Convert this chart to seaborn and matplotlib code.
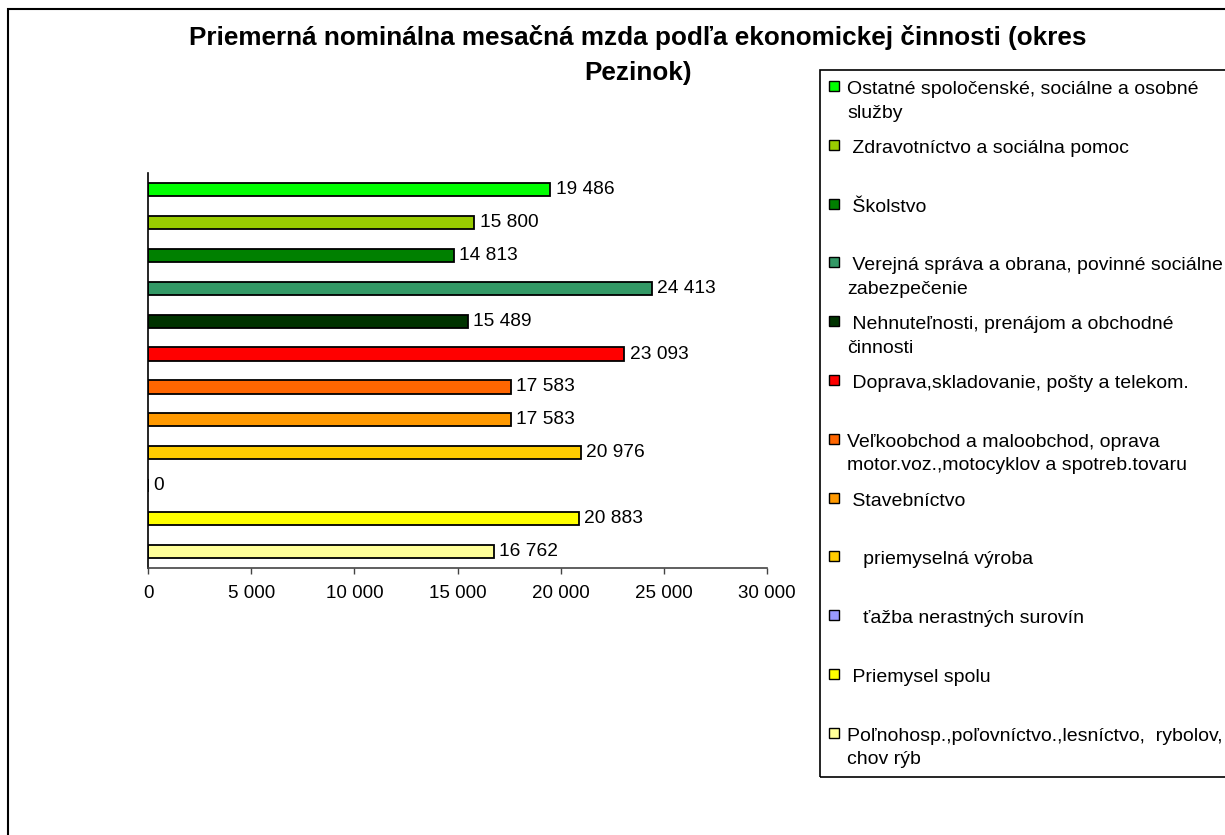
import matplotlib
matplotlib.use("Agg")
import matplotlib.pyplot as plt
from matplotlib.patches import Rectangle
import seaborn as sns
import pandas as pd

categories = [
    "Ostatné spoločenské, sociálne a osobné služby",
    "Zdravotníctvo a sociálna pomoc",
    "Školstvo",
    "Verejná správa a obrana, povinné sociálne zabezpečenie",
    "Nehnuteľnosti, prenájom a obchodné činnosti",
    "Doprava,skladovanie, pošty a telekom.",
    "Veľkoobchod a maloobchod, oprava motor.voz.,motocyklov a spotreb.tovaru",
    "Stavebníctvo",
    "priemyselná výroba",
    "ťažba nerastných surovín",
    "Priemysel spolu",
    "Poľnohosp.,poľovníctvo.,lesníctvo,  rybolov, chov rýb",
]
values = [19486, 15800, 14813, 24413, 15489, 23093, 17583, 17583, 20976, 0, 20883, 16762]
colors = ["#00FF00", "#99CC00", "#008000", "#339966", "#003300", "#FF0000",
          "#FF6600", "#FF9900", "#FFCC00", "#9999FF", "#FFFF00", "#FFFF99"]
legend_labels = [
    "Ostatné spoločenské, sociálne a osobné\nslužby",
    " Zdravotníctvo a sociálna pomoc",
    " Školstvo",
    " Verejná správa a obrana, povinné sociálne\nzabezpečenie",
    " Nehnuteľnosti, prenájom a obchodné\nčinnosti",
    " Doprava,skladovanie, pošty a telekom.",
    "Veľkoobchod a maloobchod, oprava\nmotor.voz.,motocyklov a spotreb.tovaru",
    " Stavebníctvo",
    "   priemyselná výroba",
    "   ťažba nerastných surovín",
    " Priemysel spolu",
    "Poľnohosp.,poľovníctvo.,lesníctvo,  rybolov,\nchov rýb",
]
xticks = [0, 5000, 10000, 15000, 20000, 25000, 30000]
title = "Priemerná nominálna mesačná mzda podľa ekonomickej činnosti (okres\nPezinok)"


def fmt(v):
    return f"{int(round(v)):,}".replace(",", " ")


sns.set_theme(style="white")
plt.rcParams["font.family"] = ["Liberation Sans", "DejaVu Sans"]
plt.rcParams["text.color"] = "black"
plt.rcParams["xtick.color"] = "black"

W, H = 1225, 835
fig = plt.figure(figsize=(W / 100, H / 100), dpi=100)
fig.patch.set_facecolor("white")

ax = fig.add_axes([148 / W, 1 - 568 / H, (767 - 148) / W, (568 - 173) / H])
df = pd.DataFrame({"cat": categories, "val": values})
sns.barplot(data=df, x="val", y="cat", hue="cat", palette=colors, order=categories,
            hue_order=categories, orient="h", width=0.4, legend=False,
            edgecolor="black", linewidth=1.3, ax=ax, saturation=1)

ax.set_xlim(0, 30000)
ax.set_ylim(len(categories) - 0.5, -0.5)
ax.set_xticks(xticks)
ax.set_xticklabels([fmt(t) for t in xticks], fontsize=13.5, color="black")
ax.set_yticks([])
ax.set_xlabel("")
ax.set_ylabel("")
ax.tick_params(axis="x", direction="out", length=4, width=1, color="#444444", pad=8, bottom=True)
for s in ["top", "right"]:
    ax.spines[s].set_visible(False)
ax.spines["left"].set_color("black")
ax.spines["left"].set_linewidth(1.2)
ax.spines["bottom"].set_color("#444444")
ax.spines["bottom"].set_linewidth(1.2)

for cont in ax.containers:
    ax.bar_label(cont, labels=[fmt(v) for v in cont.datavalues],
                 padding=4, fontsize=13.8, color="black")

fig.text(638 / W, 1 - 55 / H, title, ha="center", va="center", fontsize=18.8,
         fontweight="bold", linespacing=1.6, color="black")

# legend box
fig.add_artist(Rectangle((820 / W, 1 - 777 / H), (W + 20 - 820) / W, (777 - 70) / H,
                         transform=fig.transFigure, fill=False, edgecolor="black",
                         linewidth=1.2, clip_on=False))
for i, (lab, col) in enumerate(zip(legend_labels, colors)):
    yc = 88 + 58.8 * i
    fig.add_artist(Rectangle((829 / W, 1 - (yc + 3) / H), 10 / W, 10 / H,
                             transform=fig.transFigure, facecolor=col,
                             edgecolor="black", linewidth=1.0))
    fig.text(847 / W, 1 - (yc - 7) / H, lab, ha="left", va="top", fontsize=14,
             linespacing=1.5, color="black")

# outer frame
fig.add_artist(Rectangle((8 / W, -0.1), 1.2, 1 - 9 / H + 0.1,
                         transform=fig.transFigure, fill=False, edgecolor="black",
                         linewidth=1.5, clip_on=False))

fig.savefig("out.png", dpi=100, facecolor="white")
